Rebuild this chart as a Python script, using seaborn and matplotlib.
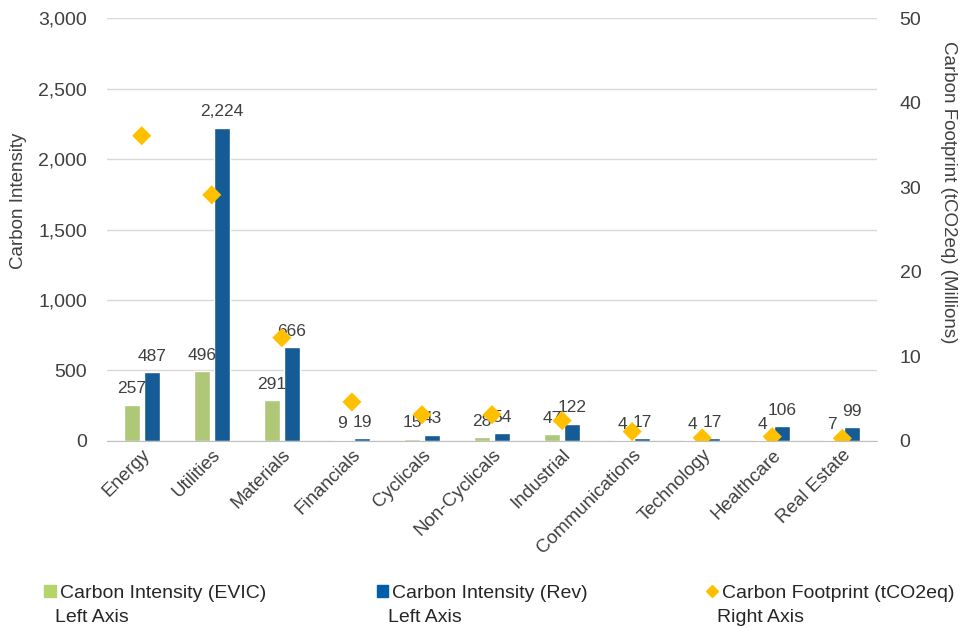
import numpy as np
import pandas as pd
import matplotlib
matplotlib.use('Agg')
import matplotlib.pyplot as plt
import seaborn as sns
from matplotlib.ticker import FuncFormatter
from matplotlib.lines import Line2D
from matplotlib.patches import Patch

sectors = ['Energy', 'Utilities', 'Materials', 'Financials', 'Cyclicals', 'Non-Cyclicals',
           'Industrial', 'Communications', 'Technology', 'Healthcare', 'Real Estate']
intensity_evic = [257, 496, 291, 9, 15, 28, 47, 4, 4, 4, 7]
intensity_rev = [487, 2224, 666, 19, 43, 54, 122, 17, 17, 106, 99]
footprint = [36.1, 29.1, 12.2, 4.6, 3.1, 3.1, 2.4, 1.1, 0.35, 0.5, 0.3]

green = '#B3D56A'
blue = '#005DAA'
gold = '#FFC000'
txt = '#404040'

sns.set_style('white')
plt.rcParams['font.family'] = ['Liberation Sans', 'DejaVu Sans']

df = pd.DataFrame({
    'sector': sectors * 2,
    'value': intensity_evic + intensity_rev,
    'series': ['EVIC'] * len(sectors) + ['Rev'] * len(sectors),
})

fig = plt.figure(figsize=(9.61, 6.28), dpi=100)
ax = fig.add_axes([0.111, 0.298, 0.802, 0.673])

sns.barplot(data=df, x='sector', y='value', hue='series', palette=[green, blue],
            width=0.57, gap=0.2, ax=ax, legend=False, zorder=2)
for c in ax.containers:
    ax.bar_label(c, labels=[f'{v:,.0f}' for v in c.datavalues], padding=6,
                 fontsize=12.5, color=txt)

ax.set_ylim(0, 3000)
ax.set_yticks(np.arange(0, 3001, 500))
ax.yaxis.set_major_formatter(FuncFormatter(lambda v, p: f'{v:,.0f}'))
ax.yaxis.grid(True, color='#D9D9D9', linewidth=1, zorder=0)
ax.set_axisbelow(True)
ax.set_xlim(-0.5, len(sectors) - 0.5)
ax.set_xlabel('')
ax.set_ylabel('Carbon Intensity', fontsize=13.5, color=txt)
ax.yaxis.set_label_coords(-0.104, 0.567)
ax.tick_params(axis='y', labelsize=14, colors=txt, pad=14, length=0)
ax.tick_params(axis='x', labelsize=13.5, colors=txt, length=0, pad=4)
plt.setp(ax.get_xticklabels(), rotation=45, ha='right', rotation_mode='anchor')
for s in ['top', 'left', 'right']:
    ax.spines[s].set_visible(False)
ax.spines['bottom'].set_color('#BFBFBF')

ax2 = ax.twinx()
sns.scatterplot(x=np.arange(len(sectors)), y=footprint, marker='D', s=95, color=gold,
                edgecolor='none', ax=ax2, zorder=5)
ax2.set_ylim(0, 50)
ax2.set_yticks(np.arange(0, 51, 10))
ax2.set_ylabel('Carbon Footprint (tCO2eq) (Millions)', fontsize=13.5, color=txt,
               rotation=270, va='center')
ax2.yaxis.set_label_coords(1.092, 0.589)
ax2.tick_params(axis='y', labelsize=14, colors=txt, pad=16, length=0)
for s in ax2.spines.values():
    s.set_visible(False)

# legend, one entry per column, second line as text
entries = [
    (Patch(color=green), 'Carbon Intensity (EVIC)', 'Left Axis', 0.046),
    (Patch(color=blue), 'Carbon Intensity (Rev)', 'Left Axis', 0.392),
    (Line2D([], [], marker='D', color=gold, linestyle='none', markersize=6),
     'Carbon Footprint (tCO2eq)', 'Right Axis', 0.735),
]
for h, l1, l2, x in entries:
    fig.legend([h], [l1], loc='upper left', bbox_to_anchor=(x, 0.069), frameon=False,
               handlelength=0.6, handleheight=0.6, handletextpad=0.2, borderpad=0,
               borderaxespad=0, fontsize=14, labelcolor='#262626')
    fig.text(x + 0.0115, 0.0175, l2, fontsize=14, color='#262626', va='center')

fig.savefig('out.png', dpi=100)
